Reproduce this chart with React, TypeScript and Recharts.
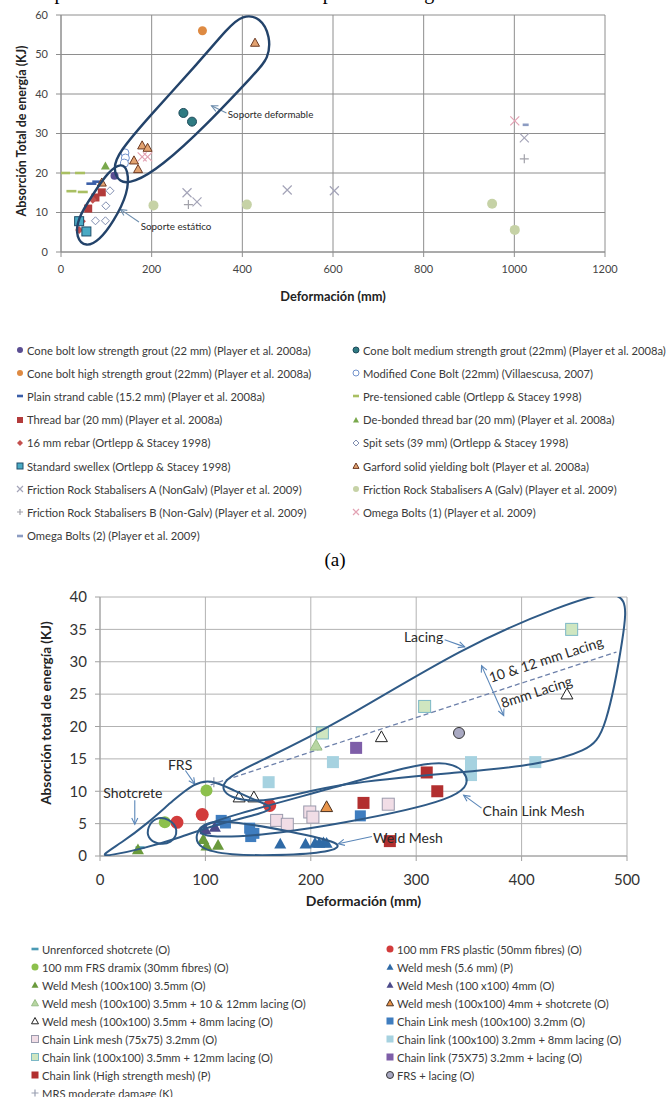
import React from 'react';
import { ScatterChart, Scatter, XAxis, YAxis, CartesianGrid, ReferenceLine, ReferenceDot, Label } from 'recharts';

type Pt = { x: number; y: number };
type Kind = 'circle' | 'square' | 'triangle' | 'diamond' | 'cross' | 'plus' | 'dash';

const FONT = "Lato, 'Open Sans', sans-serif";

// ---- (a) bolts: deformation (mm) vs energy (kJ)
const coneBoltLow: Pt[] = [{ x: 118, y: 19.3 }];
const coneBoltMedium: Pt[] = [{ x: 270, y: 35.2 }, { x: 289, y: 33 }];
const coneBoltHigh: Pt[] = [{ x: 312, y: 56 }];
const modifiedConeBolt: Pt[] = [{ x: 141, y: 25.1 }, { x: 142, y: 23.8 }, { x: 140, y: 22.5 }];
const plainStrandCable: Pt[] = [{ x: 67, y: 17.3 }, { x: 80, y: 17.8 }];
const preTensionedCable: Pt[] = [{ x: 9, y: 20 }, { x: 42, y: 20 }, { x: 23, y: 15.4 }, { x: 48, y: 15.2 }];
const threadBar: Pt[] = [{ x: 60, y: 11 }, { x: 76, y: 13.8 }, { x: 90, y: 15.1 }];
const debondedThreadBar: Pt[] = [{ x: 98, y: 21.8 }];
const rebar16: Pt[] = [{ x: 40, y: 5.6 }, { x: 46, y: 7.8 }, { x: 70, y: 13.2 }];
const spitSets: Pt[] = [{ x: 108, y: 15.5 }, { x: 99, y: 11.7 }, { x: 76, y: 7.9 }, { x: 98, y: 7.9 }];
const standardSwellex: Pt[] = [{ x: 40, y: 7.8 }, { x: 56, y: 5.2 }];
const garfordBolt: Pt[] = [{ x: 179, y: 27 }, { x: 191, y: 26.4 }, { x: 161, y: 23.2 }, { x: 170, y: 21 }, { x: 90, y: 17.6 }, { x: 428, y: 53 }];
const frsANonGalv: Pt[] = [{ x: 278, y: 15 }, { x: 300, y: 12.7 }, { x: 499, y: 15.7 }, { x: 603, y: 15.5 }, { x: 1022, y: 28.9 }];
const frsAGalv: Pt[] = [{ x: 204, y: 11.8 }, { x: 410, y: 12 }, { x: 951, y: 12.2 }, { x: 1001, y: 5.6 }];
const frsBNonGalv: Pt[] = [{ x: 281, y: 12 }, { x: 1022, y: 23.6 }];
const omegaBolts1: Pt[] = [{ x: 179, y: 24.1 }, { x: 191, y: 24.1 }, { x: 1001, y: 33.2 }];
const omegaBolts2: Pt[] = [{ x: 1025, y: 32.2 }];

const xTicks1 = [0, 200, 400, 600, 800, 1000, 1200];
const yTicks1 = [0, 10, 20, 30, 40, 50, 60];

// outlines of the two groups
const deformableOutline: Pt[] = [
  { x: 125, y: 25 }, { x: 200, y: 35 }, { x: 300, y: 47.5 }, { x: 370, y: 57 }, { x: 400, y: 60 },
  { x: 440, y: 59.5 }, { x: 462, y: 54.5 }, { x: 458, y: 49 }, { x: 430, y: 45.5 }, { x: 320, y: 32 },
  { x: 220, y: 21.5 }, { x: 160, y: 17.5 }, { x: 128, y: 17.5 }, { x: 115, y: 21 },
];
const staticOutline: Pt[] = [
  { x: 133, y: 22.5 }, { x: 148, y: 21 }, { x: 149, y: 15 }, { x: 115, y: 7.5 }, { x: 85, y: 3 },
  { x: 55, y: 1.2 }, { x: 33, y: 3.5 }, { x: 36, y: 8.5 }, { x: 70, y: 14.5 }, { x: 105, y: 20.5 },
];

// ---- (b) surface support
const unreinforcedShotcrete: Pt[] = [{ x: 38, y: 1.3 }];
const frsPlastic: Pt[] = [{ x: 73, y: 5.2 }, { x: 97, y: 6.4 }, { x: 161, y: 7.8 }];
const frsDramix: Pt[] = [{ x: 61.5, y: 5.2 }, { x: 101, y: 10.1 }];
const weldMesh56: Pt[] = [{ x: 171, y: 1.9 }, { x: 195, y: 1.9 }, { x: 204, y: 2 }, { x: 208, y: 2 }, { x: 212, y: 2.1 }, { x: 215, y: 2 }];
const weldMesh35: Pt[] = [{ x: 36, y: 1 }, { x: 98, y: 2.6 }, { x: 101, y: 1.6 }, { x: 112, y: 1.7 }];
const weldMesh4: Pt[] = [{ x: 100, y: 4.1 }, { x: 109, y: 4.5 }];
const weldMeshLacing1012: Pt[] = [{ x: 205, y: 17.1 }];
const weldMeshShotcrete: Pt[] = [{ x: 215, y: 7.6 }];
const weldMeshLacing8: Pt[] = [{ x: 132, y: 9.1 }, { x: 146, y: 9.1 }, { x: 267, y: 18.4 }, { x: 443, y: 25 }];
const chainLink100: Pt[] = [{ x: 115, y: 5.5 }, { x: 119, y: 5.1 }, { x: 142, y: 4.3 }, { x: 146, y: 3.5 }, { x: 143, y: 3 }, { x: 247, y: 6.2 }];
const chainLink75: Pt[] = [{ x: 167.6, y: 5.5 }, { x: 177.7, y: 4.9 }, { x: 199, y: 6.8 }, { x: 202, y: 6 }, { x: 273.5, y: 8 }];
const chainLinkLacing8: Pt[] = [{ x: 160, y: 11.4 }, { x: 221, y: 14.5 }, { x: 352, y: 14.5 }, { x: 352, y: 13.5 }, { x: 352, y: 12.5 }, { x: 413, y: 14.5 }];
const chainLinkLacing12: Pt[] = [{ x: 211, y: 19 }, { x: 308, y: 23.1 }, { x: 447.5, y: 35 }];
const chainLink75Lacing: Pt[] = [{ x: 243, y: 16.7 }];
const chainLinkHighStrength: Pt[] = [{ x: 250, y: 8.2 }, { x: 275, y: 2.3 }, { x: 310, y: 12.9 }, { x: 320, y: 10 }];
const frsLacing: Pt[] = [{ x: 340.6, y: 19 }];
const mrsModerate: Pt[] = [{ x: 108, y: 11.4 }];

const xTicks2 = [0, 100, 200, 300, 400, 500];
const yTicks2 = [0, 5, 10, 15, 20, 25, 30, 35, 40];

const lacingOutline: Pt[] = [
  { x: 112, y: 11.5 }, { x: 150, y: 14.5 }, { x: 223, y: 20.2 }, { x: 346, y: 32.5 }, { x: 440, y: 38.8 },
  { x: 480, y: 40.8 }, { x: 500, y: 40 }, { x: 498, y: 35 }, { x: 480, y: 19 }, { x: 463, y: 16.2 },
  { x: 413, y: 14 }, { x: 349, y: 13 }, { x: 223, y: 11.3 }, { x: 161, y: 8.2 }, { x: 120, y: 8.8 },
];
const chainLinkOutline: Pt[] = [
  { x: 90, y: 4.3 }, { x: 123, y: 6.2 }, { x: 223, y: 10.6 }, { x: 294, y: 13.9 }, { x: 330, y: 14.8 },
  { x: 352, y: 12.5 }, { x: 345, y: 8.8 }, { x: 223, y: 4.8 }, { x: 150, y: 3.1 }, { x: 98, y: 2.8 },
];
const weldMeshOutline: Pt[] = [
  { x: 90, y: 3.4 }, { x: 100, y: 5.4 }, { x: 130, y: 5.3 }, { x: 180, y: 3.8 }, { x: 232, y: 2 },
  { x: 222, y: 0.7 }, { x: 180, y: 0.1 }, { x: 120, y: 0.1 }, { x: 93, y: 1.2 },
];
const frsOutline: Pt[] = [
  { x: 0, y: 0 }, { x: 20, y: 2 }, { x: 45, y: 5 }, { x: 70, y: 8.7 }, { x: 90, y: 11.3 }, { x: 105, y: 11.8 },
  { x: 125, y: 10.3 }, { x: 150, y: 8.4 }, { x: 167, y: 7.5 }, { x: 150, y: 6.4 }, { x: 110, y: 4.9 },
  { x: 75, y: 2.8 }, { x: 40, y: 1.1 }, { x: 10, y: 0.1 },
];
const shotcreteOutline: Pt[] = [
  { x: 45, y: 4.4 }, { x: 52, y: 6 }, { x: 66, y: 5.8 }, { x: 75, y: 4 }, { x: 68, y: 1.9 }, { x: 54, y: 1.8 }, { x: 45, y: 2.8 },
];

interface Series { name: string; data: Pt[]; kind: Kind; fill: string; stroke?: string; size: number }

const bolts: Series[] = [
  { name: 'Cone bolt low strength grout (22 mm) (Player et al. 2008a)', data: coneBoltLow, kind: 'circle', fill: '#5a4e92', size: 8 },
  { name: 'Cone bolt medium strength grout (22mm) (Player et al. 2008a)', data: coneBoltMedium, kind: 'circle', fill: '#2f7b82', stroke: '#1d4a5a', size: 9 },
  { name: 'Cone bolt high strength grout (22mm) (Player et al. 2008a)', data: coneBoltHigh, kind: 'circle', fill: '#de8a42', size: 9 },
  { name: 'Modified Cone Bolt (22mm) (Villaescusa, 2007)', data: modifiedConeBolt, kind: 'circle', fill: '#ffffff', stroke: '#7292cc', size: 8 },
  { name: 'Plain strand cable (15.2 mm) (Player et al. 2008a)', data: plainStrandCable, kind: 'dash', fill: '#3a5ea8', size: 10 },
  { name: 'Pre-tensioned cable (Ortlepp & Stacey 1998)', data: preTensionedCable, kind: 'dash', fill: '#a9bf62', size: 10 },
  { name: 'Thread bar (20 mm) (Player et al. 2008a)', data: threadBar, kind: 'square', fill: '#b33b3b', size: 8 },
  { name: 'De-bonded thread bar (20 mm) (Player et al. 2008a)', data: debondedThreadBar, kind: 'triangle', fill: '#79a84c', size: 9 },
  { name: '16 mm rebar (Ortlepp & Stacey 1998)', data: rebar16, kind: 'diamond', fill: '#c4504e', size: 8 },
  { name: 'Spit sets (39 mm) (Ortlepp & Stacey 1998)', data: spitSets, kind: 'diamond', fill: '#ffffff', stroke: '#7f8db0', size: 8 },
  { name: 'Standard swellex (Ortlepp & Stacey 1998)', data: standardSwellex, kind: 'square', fill: '#4aaac4', stroke: '#1f4e6a', size: 9 },
  { name: 'Garford solid yielding  bolt (Player et al. 2008a)', data: garfordBolt, kind: 'triangle', fill: '#e2a270', stroke: '#6e3a22', size: 9 },
  { name: 'Friction Rock Stabalisers A (NonGalv)  (Player et al. 2009)', data: frsANonGalv, kind: 'cross', fill: '#a4a4b8', size: 9 },
  { name: 'Friction Rock Stabalisers A (Galv) (Player et al. 2009)', data: frsAGalv, kind: 'circle', fill: '#c6d2a6', size: 10 },
  { name: 'Friction Rock Stabalisers B (Non-Galv)  (Player et al. 2009)', data: frsBNonGalv, kind: 'plus', fill: '#a2a2aa', size: 9 },
  { name: 'Omega Bolts (1) (Player et al. 2009)', data: omegaBolts1, kind: 'cross', fill: '#e3a3b4', size: 9 },
  { name: 'Omega Bolts (2) (Player et al. 2009)', data: omegaBolts2, kind: 'dash', fill: '#8c9cc2', size: 6 },
];

const surface: Series[] = [
  { name: 'Unrenforced shotcrete (O)', data: unreinforcedShotcrete, kind: 'dash', fill: '#4a9ab4', size: 9 },
  { name: '100 mm FRS plastic (50mm fibres) (O)', data: frsPlastic, kind: 'circle', fill: '#d23c3c', size: 13 },
  { name: '100 mm FRS dramix (30mm fibres) (O)', data: frsDramix, kind: 'circle', fill: '#8cc04c', size: 12 },
  { name: 'Weld mesh (5.6 mm) (P)', data: weldMesh56, kind: 'triangle', fill: '#2f6aa6', size: 12 },
  { name: 'Weld Mesh (100x100) 3.5mm (O)', data: weldMesh35, kind: 'triangle', fill: '#6a9a3c', size: 12 },
  { name: 'Weld Mesh (100 x100) 4mm (O)', data: weldMesh4, kind: 'triangle', fill: '#4c4a8a', size: 12 },
  { name: 'Weld mesh (100x100) 3.5mm + 10 & 12mm lacing (O)', data: weldMeshLacing1012, kind: 'triangle', fill: '#b8d6a2', stroke: '#98bd86', size: 12 },
  { name: 'Weld mesh (100x100) 4mm + shotcrete (O)', data: weldMeshShotcrete, kind: 'triangle', fill: '#e8944a', stroke: '#4a3020', size: 12 },
  { name: 'Weld mesh (100x100) 3.5mm + 8mm lacing (O)', data: weldMeshLacing8, kind: 'triangle', fill: '#ffffff', stroke: '#222222', size: 12 },
  { name: 'Chain Link mesh (100x100) 3.2mm (O)', data: chainLink100, kind: 'square', fill: '#3f7dbf', size: 11 },
  { name: 'Chain Link mesh (75x75) 3.2mm (O)', data: chainLink75, kind: 'square', fill: '#f1dde6', stroke: '#9a9aac', size: 12 },
  { name: 'Chain link (100x100) 3.2mm +  8mm lacing (O)', data: chainLinkLacing8, kind: 'square', fill: '#a6d2e0', size: 12 },
  { name: 'Chain link (100x100) 3.5mm +  12mm lacing (O)', data: chainLinkLacing12, kind: 'square', fill: '#cfe6c0', stroke: '#7cb8c6', size: 12 },
  { name: 'Chain link (75X75) 3.2mm + lacing (O)', data: chainLink75Lacing, kind: 'square', fill: '#7e5ea8', size: 12 },
  { name: 'Chain link (High strength mesh) (P)', data: chainLinkHighStrength, kind: 'square', fill: '#b22f2f', size: 12 },
  { name: 'FRS + lacing (O)', data: frsLacing, kind: 'circle', fill: '#a9a9c2', stroke: '#333333', size: 11 },
  { name: 'MRS moderate damage (K)', data: mrsModerate, kind: 'plus', fill: '#9aa0b2', size: 10 },
];

type Arrow = { from: [number, number]; to: [number, number]; both?: boolean };
type Note = { text: string; x: number; y: number; anchor: 'start' | 'middle'; rotate?: number };

const boltArrows: Arrow[] = [
  { from: [365, 35.2], to: [332, 37] },
  { from: [172, 7.6], to: [131, 10.8] },
];
const boltNotes: Note[] = [
  { text: 'Soporte deformable', x: 368, y: 35, anchor: 'start' },
  { text: 'Soporte estático', x: 176, y: 6.7, anchor: 'start' },
];

const surfaceArrows: Arrow[] = [
  { from: [33, 8.6], to: [33, 4.9] },
  { from: [81, 13.2], to: [90, 11.1] },
  { from: [327, 33.4], to: [346, 32.3] },
  { from: [362, 29.4], to: [383, 21.7], both: true },
  { from: [362, 7.4], to: [345, 9.4] },
  { from: [258, 3], to: [226, 1.9] },
];
const surfaceNotes: Note[] = [
  { text: 'Shotcrete', x: 3, y: 9.8, anchor: 'start' },
  { text: 'FRS', x: 76, y: 14.1, anchor: 'middle' },
  { text: 'Lacing', x: 307, y: 33.9, anchor: 'middle' },
  { text: '10 & 12 mm Lacing', x: 423, y: 30.4, anchor: 'middle', rotate: -18 },
  { text: '8mm Lacing', x: 414, y: 25.4, anchor: 'middle', rotate: -18 },
  { text: 'Chain Link Mesh', x: 363, y: 7, anchor: 'start' },
  { text: 'Weld Mesh', x: 259, y: 2.9, anchor: 'start' },
];

function Marker({ kind, cx, cy, size, fill, stroke }: { kind: Kind; cx: number; cy: number; size: number; fill: string; stroke?: string }) {
  const h = size / 2;
  const st = stroke ?? 'none';
  switch (kind) {
    case 'circle':
      return <circle cx={cx} cy={cy} r={h} fill={fill} stroke={st} strokeWidth={1} />;
    case 'square':
      return <rect x={cx - h} y={cy - h} width={size} height={size} fill={fill} stroke={st} strokeWidth={1} />;
    case 'triangle':
      return <polygon points={`${cx},${cy - h} ${cx + h},${cy + h * 0.8} ${cx - h},${cy + h * 0.8}`} fill={fill} stroke={st} strokeWidth={1} />;
    case 'diamond':
      return <polygon points={`${cx},${cy - h} ${cx + h},${cy} ${cx},${cy + h} ${cx - h},${cy}`} fill={fill} stroke={st} strokeWidth={1} />;
    case 'cross':
      return <path d={`M${cx - h},${cy - h}L${cx + h},${cy + h}M${cx + h},${cy - h}L${cx - h},${cy + h}`} stroke={fill} strokeWidth={1.2} />;
    case 'plus':
      return <path d={`M${cx - h},${cy}L${cx + h},${cy}M${cx},${cy - h}L${cx},${cy + h}`} stroke={fill} strokeWidth={1.2} />;
    default:
      return <rect x={cx - h} y={cy - 1.3} width={size} height={2.6} fill={fill} />;
  }
}

function ArrowPath({ x1, y1, x2, y2, color, both }: any) {
  const head = (tx: number, ty: number, fx: number, fy: number) => {
    const a = Math.atan2(ty - fy, tx - fx);
    const l = 7;
    const p1 = [tx - l * Math.cos(a - 0.45), ty - l * Math.sin(a - 0.45)];
    const p2 = [tx - l * Math.cos(a + 0.45), ty - l * Math.sin(a + 0.45)];
    return `M${p1[0]},${p1[1]}L${tx},${ty}L${p2[0]},${p2[1]}`;
  };
  return (
    <g fill="none" stroke={color} strokeWidth={1.1}>
      <line x1={x1} y1={y1} x2={x2} y2={y2} />
      <path d={head(x2, y2, x1, y1)} />
      {both && <path d={head(x1, y1, x2, y2)} />}
    </g>
  );
}

function renderSeries(list: Series[]) {
  return list.map((s) => (
    <Scatter
      key={s.name}
      name={s.name}
      data={s.data}
      isAnimationActive={false}
      shape={(p: any) => <Marker kind={s.kind} cx={p.cx} cy={p.cy} size={s.size} fill={s.fill} stroke={s.stroke} />}
    />
  ));
}

function renderOutlines(list: Pt[][], color: string, width: number) {
  return list.map((pts, i) => (
    <Scatter
      key={`outline-${i}`}
      data={pts}
      fill={color}
      line={{ stroke: color, strokeWidth: width }}
      lineType="joint"
      lineJointType="basisClosed"
      shape={() => <g />}
      legendType="none"
      isAnimationActive={false}
    />
  ));
}

function renderArrows(list: Arrow[], color: string) {
  return list.map((a, i) => (
    <ReferenceLine
      key={`arrow-${i}`}
      segment={[{ x: a.from[0], y: a.from[1] }, { x: a.to[0], y: a.to[1] }]}
      ifOverflow="visible"
      shape={(p: any) => <ArrowPath x1={p.x1} y1={p.y1} x2={p.x2} y2={p.y2} color={color} both={a.both} />}
    />
  ));
}

function renderNotes(list: Note[], fontSize: number) {
  return list.map((n) => (
    <ReferenceDot
      key={n.text}
      x={n.x}
      y={n.y}
      ifOverflow="visible"
      shape={(p: any) => (
        <text
          x={p.cx}
          y={p.cy}
          textAnchor={n.anchor}
          dominantBaseline="central"
          fontSize={fontSize}
          fontFamily={FONT}
          fill="#2a2a2a"
          transform={n.rotate ? `rotate(${n.rotate} ${p.cx} ${p.cy})` : undefined}
        >
          {n.text}
        </text>
      )}
    />
  ));
}

const xTitle = (text: string, dy: number, size: number) => (p: any) => {
  const vb = p.viewBox;
  return (
    <text x={vb.x + vb.width / 2} y={vb.y + dy} textAnchor="middle" dominantBaseline="central" fontSize={size} fontWeight="bold" fontFamily={FONT} fill="#222">
      {text}
    </text>
  );
};

const yTitle = (text: string, cx: number, cy: number, size: number) => () => (
  <text x={cx} y={cy} transform={`rotate(-90 ${cx} ${cy})`} textAnchor="middle" dominantBaseline="central" fontSize={size} fontWeight="bold" fontFamily={FONT} fill="#222">
    {text}
  </text>
);

function LegendBlock({ items, top, cols, rowH, fontSize, markerSize }: { items: Series[]; top: number; cols: number[]; rowH: number; fontSize: number; markerSize: number }) {
  return (
    <div style={{ position: 'absolute', top, left: 0, width: 670 }}>
      {items.map((s, i) => (
        <div
          key={s.name}
          style={{
            position: 'absolute',
            left: cols[i % 2],
            top: Math.floor(i / 2) * rowH,
            height: 14,
            display: 'flex',
            alignItems: 'center',
            whiteSpace: 'nowrap',
            fontFamily: FONT,
            fontSize,
            color: '#3a3a3a',
          }}
        >
          <svg width={10} height={10} style={{ marginRight: 2 }}>
            <Marker kind={s.kind} cx={5} cy={5} size={markerSize} fill={s.fill} stroke={s.stroke} />
          </svg>
          <span>{s.name}</span>
        </div>
      ))}
    </div>
  );
}

export default function App() {
  return (
    <div style={{ position: 'absolute', left: 0, top: 0, width: 670, height: 1097, overflow: 'hidden', background: '#fff' }}>
      <div style={{ position: 'absolute', top: -19, left: 20, fontFamily: "'Liberation Serif', serif", fontSize: 20, whiteSpace: 'nowrap' }}>
        comportamiento de los sistemas de soporte en la figura 4.
      </div>

      <div style={{ position: 'absolute', top: 0, left: 0 }}>
        <ScatterChart width={670} height={310} margin={{ top: 15, right: 65, bottom: 0, left: 0 }}>
          <CartesianGrid stroke="#8e8e8e" />
          <XAxis
            type="number"
            dataKey="x"
            domain={[0, 1200]}
            ticks={xTicks1}
            allowDataOverflow
            height={58}
            stroke="#8e8e8e"
            tickSize={5}
            tickMargin={8}
            tick={{ fontSize: 11, fill: '#444', fontFamily: FONT }}
          >
            <Label content={xTitle('Deformación (mm)', 44, 12.8)} />
          </XAxis>
          <YAxis
            type="number"
            dataKey="y"
            domain={[0, 60]}
            ticks={yTicks1}
            allowDataOverflow
            width={61}
            stroke="#8e8e8e"
            tickSize={5}
            tickMargin={8}
            tick={{ fontSize: 11, fill: '#444', fontFamily: FONT }}
          >
            <Label content={yTitle('Absorción Total de energía (KJ)', 21, 131, 12.5)} />
          </YAxis>
          {renderSeries(bolts)}
          {renderOutlines([deformableOutline, staticOutline], '#23436a', 2.4)}
          {renderArrows(boltArrows, '#6f8fae')}
          {renderNotes(boltNotes, 9.8)}
        </ScatterChart>
      </div>

      <LegendBlock items={bolts} top={343} cols={[15, 351]} rowH={23.2} fontSize={11.2} markerSize={6} />

      <div style={{ position: 'absolute', top: 549, left: 0, width: 670, textAlign: 'center', fontFamily: "'Liberation Serif', serif", fontSize: 19 }}>(a)</div>

      <div style={{ position: 'absolute', top: 580, left: 0 }}>
        <ScatterChart width={670} height={330} margin={{ top: 17, right: 43, bottom: 0, left: 0 }}>
          <CartesianGrid stroke="#b2b2b2" />
          <XAxis
            type="number"
            dataKey="x"
            domain={[0, 500]}
            ticks={xTicks2}
            allowDataOverflow
            height={54}
            stroke="#a0a0a0"
            tickSize={5}
            tickMargin={13}
            tick={{ fontSize: 15, fill: '#333', fontFamily: FONT }}
          >
            <Label content={xTitle('Deformación (mm)', 44, 14)} />
          </XAxis>
          <YAxis
            type="number"
            dataKey="y"
            domain={[0, 40]}
            ticks={yTicks2}
            allowDataOverflow
            width={100}
            stroke="#a0a0a0"
            tickSize={5}
            tickMargin={8}
            tick={{ fontSize: 15, fill: '#333', fontFamily: FONT }}
          >
            <Label content={yTitle('Absorción total de energía (KJ)', 46, 133, 13.5)} />
          </YAxis>
          <ReferenceLine
            segment={[{ x: 105, y: 11 }, { x: 490, y: 31.5 }]}
            ifOverflow="visible"
            stroke="#6d80aa"
            strokeWidth={1.3}
            strokeDasharray="5 3"
          />
          {renderSeries(surface)}
          {renderOutlines([lacingOutline, chainLinkOutline, weldMeshOutline, frsOutline, shotcreteOutline], '#2f5a86', 2)}
          {renderArrows(surfaceArrows, '#5a86b8')}
          {renderNotes(surfaceNotes, 14)}
        </ScatterChart>
      </div>

      <LegendBlock items={surface} top={942} cols={[30, 385]} rowH={18} fontSize={11.2} markerSize={7} />
    </div>
  );
}
